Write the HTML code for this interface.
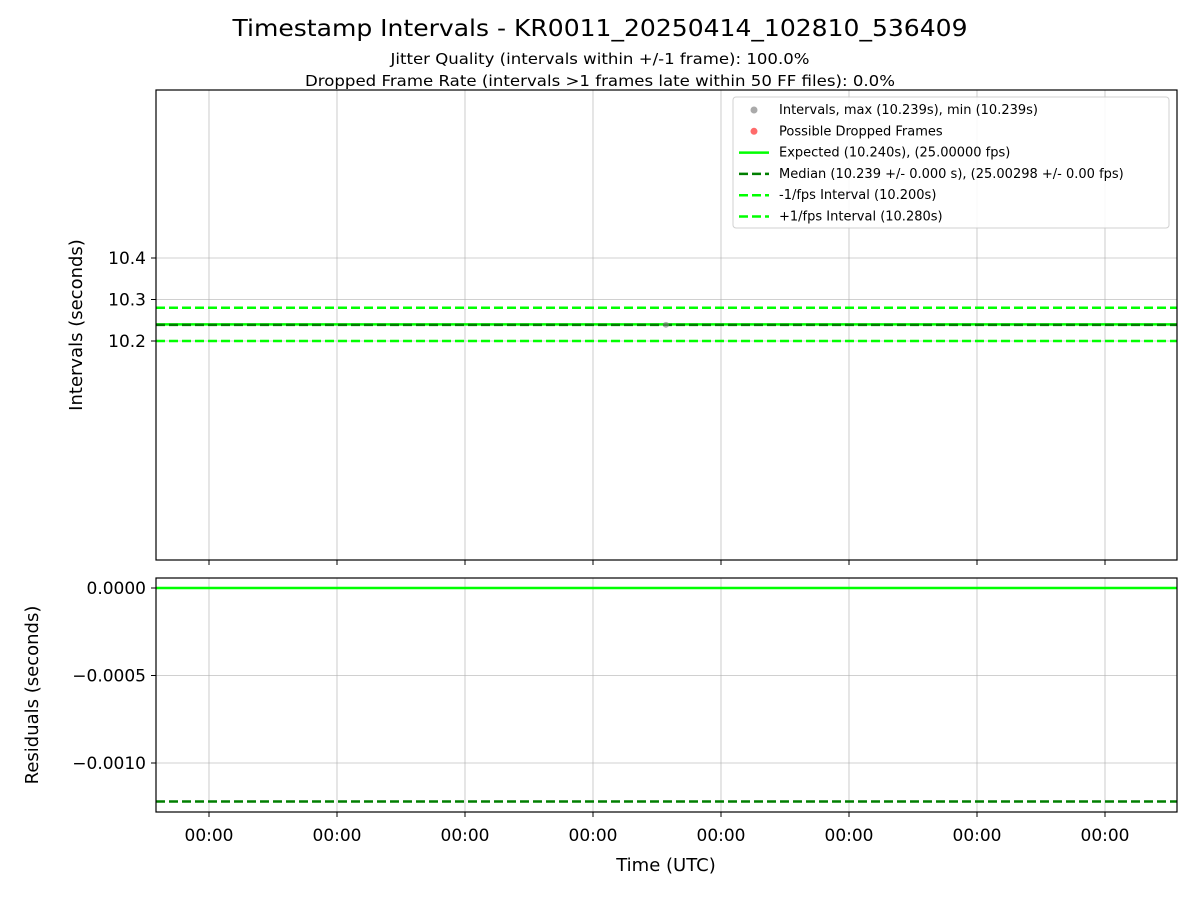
<!DOCTYPE html>
<html><head><meta charset="utf-8"><style>
body{margin:0;background:#fff;}
svg text{font-family:"DejaVu Sans","Liberation Sans",sans-serif;}
</style></head><body>
<svg id="c" width="1200" height="900" xmlns="http://www.w3.org/2000/svg">
<rect width="1200" height="900" fill="#fff"/>
<text x="600" y="36" font-size="23" text-anchor="middle" textLength="735" lengthAdjust="spacingAndGlyphs">Timestamp Intervals - KR0011_20250414_102810_536409</text>
<text x="600" y="64" font-size="15" text-anchor="middle" textLength="419" lengthAdjust="spacingAndGlyphs">Jitter Quality (intervals within +/-1 frame): 100.0%</text>
<text x="600" y="86" font-size="15" text-anchor="middle" textLength="590" lengthAdjust="spacingAndGlyphs">Dropped Frame Rate (intervals &gt;1 frames late within 50 FF files): 0.0%</text>
<g id="gtop"></g><g id="gbot"></g>
<text x="82" y="325" font-size="18" text-anchor="middle" transform="rotate(-90 82 325)">Intervals (seconds)</text>
<text x="38" y="695" font-size="18" text-anchor="middle" transform="rotate(-90 38 695)">Residuals (seconds)</text>
<text x="666" y="871" font-size="18" text-anchor="middle">Time (UTC)</text>
</svg>
<script>
const xTickLabels=["00:00","00:00","00:00","00:00","00:00","00:00","00:00","00:00"];
const xTickPos=[0,1,2,3,4,5,6,7];
const pointX=[3.57];
const intervals=[10.239];
const expected=10.240;
const median=10.23878;
const minusInt=10.200;
const plusInt=10.280;
const topTicks=[10.2,10.3,10.4];
const botTicks=[0,-0.0005,-0.0010];
const NS="http://www.w3.org/2000/svg";
const L=156,R=1177;
const xs=v=>209+(v)*(1105-209)/7;
const yT=v=>341-(v-10.2)*415;
const yB=v=>588-(v)*175000;
function el(p,t,a,txt){const e=document.createElementNS(NS,t);for(const k in a)e.setAttribute(k,a[k]);if(txt!==undefined)e.textContent=txt;p.appendChild(e);return e;}
const gTop=document.getElementById('gtop'),gBot=document.getElementById('gbot');
function panel(g,y0,y1,ticks,yf,fmt,name){
  el(g,'rect',{x:L,y:y0,width:R-L,height:y1-y0,fill:'#fff'});
  xTickPos.forEach((t,i)=>{const x=xs(t);
    const l=el(g,'line',{x1:x,x2:x,y1:y0,y2:y1,stroke:'#b0b0b0','stroke-width':0.8,opacity:0.8});
    
    
    el(g,'line',{x1:x,x2:x,y1:y1,y2:y1+5,stroke:'#000'});
    if(name==='bot'){const tx=el(g,'text',{x:x,y:y1+29,'font-size':17,'text-anchor':'middle'},xTickLabels[i]);
      
      }
  });
  ticks.forEach(v=>{const y=yf(v);
    const l=el(g,'line',{x1:L,x2:R,y1:y,y2:y,stroke:'#b0b0b0','stroke-width':0.8,opacity:0.8});
    
    
    el(g,'line',{x1:L-5,x2:L,y1:y,y2:y,stroke:'#000'});
    const tx=el(g,'text',{x:L-10,y:y+6,'font-size':17,'text-anchor':'end'},fmt(v));
    
    
  });
}
function hline(g,y,col,dash,w,name){const l=el(g,'line',{x1:L,x2:R,y1:y,y2:y,stroke:col,'stroke-width':w});
  if(dash)l.setAttribute('stroke-dasharray',dash);
  
  }
panel(gTop,90,560,topTicks,yT,v=>v.toFixed(1),'top');
hline(gTop,yT(expected),'#00ff00',null,2.5,'expected-line');
hline(gTop,yT(median),'#007f00','9,4',2.5,'median-line');
hline(gTop,yT(minusInt),'#00ff00','9,4',2.5,'minus-fps-line');
hline(gTop,yT(plusInt),'#00ff00','9,4',2.5,'plus-fps-line');
intervals.forEach((v,i)=>{const c=el(gTop,'circle',{cx:xs(pointX[i]),cy:yT(v),r:3,fill:'#808080',opacity:0.6});
  
  });
el(gTop,'rect',{x:L,y:90,width:R-L,height:470,fill:'none',stroke:'#000','stroke-width':1.2});
panel(gBot,578,812,botTicks,yB,v=>v===0?'0.0000':'\u2212'+Math.abs(v).toFixed(4),'bot');
hline(gBot,yB(0),'#00ff00',null,2.5,'expected-residual-line');
hline(gBot,yB(median-expected),'#007f00','9,4',2.5,'median-residual-line');
el(gBot,'rect',{x:L,y:578,width:R-L,height:234,fill:'none',stroke:'#000','stroke-width':1.2});
const lg=el(gTop,'g',{});


el(lg,'rect',{x:733,y:97,width:436,height:131,rx:3,fill:'#fff',stroke:'#ccc','stroke-width':1,opacity:0.9});
const items=[["dot","#aaaaaa",null,"Intervals, max (10.239s), min (10.239s)"],["dot","#ff6b6b",null,"Possible Dropped Frames"],["line","#00ff00",null,"Expected (10.240s), (25.00000 fps)"],["line","#007f00","9,4","Median (10.239 +/- 0.000 s), (25.00298 +/- 0.00 fps)"],["line","#00ff00","9,4","-1/fps Interval (10.200s)"],["line","#00ff00","9,4","+1/fps Interval (10.280s)"]];
items.forEach((it,i)=>{const y=109+i*21.3;
  const g=el(lg,'g',{});
  
  
  if(it[0]==='dot')el(g,'circle',{cx:754,cy:y+1,r:3.5,fill:it[1]});
  else{const l=el(g,'line',{x1:739,x2:769,y1:y+1,y2:y+1,stroke:it[1],'stroke-width':2.5});if(it[2])l.setAttribute('stroke-dasharray',it[2]);}
  el(g,'text',{x:779,y:y+5,'font-size':13},it[3]);
});
</script>
</body></html>
